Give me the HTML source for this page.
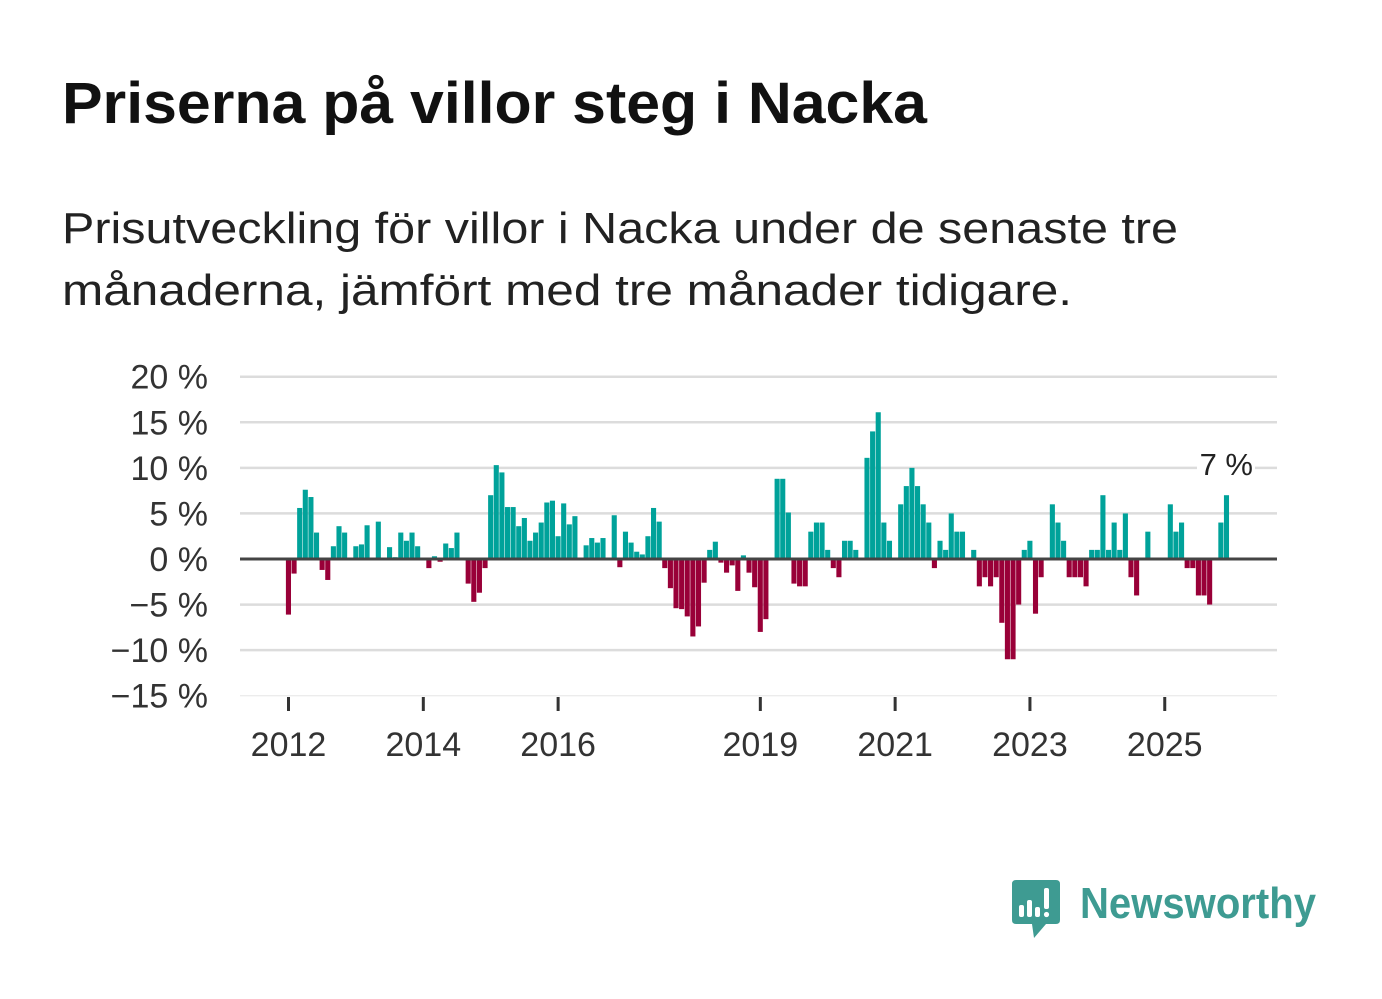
<!DOCTYPE html>
<html><head><meta charset="utf-8"><style>
html,body{margin:0;padding:0;background:#fff;}
svg{display:block;font-family:"Liberation Sans","DejaVu Sans",sans-serif;}
</style></head><body>
<svg id="chart" width="1382" height="999" viewBox="0 0 1382 999" xmlns="http://www.w3.org/2000/svg">
<text x="62" y="123" font-size="58" font-weight="bold" fill="#111" textLength="865" lengthAdjust="spacingAndGlyphs">Priserna på villor steg i Nacka</text>
<text x="62" y="243" font-size="44" fill="#222" textLength="1116" lengthAdjust="spacingAndGlyphs">Prisutveckling för villor i Nacka under de senaste tre</text>
<text x="62" y="305" font-size="44" fill="#222" textLength="1010" lengthAdjust="spacingAndGlyphs">månaderna, jämfört med tre månader tidigare.</text>
<g id="grid"></g>
<g id="bars"></g>
<g id="axes"></g>
<g>
<path d="M1016 880 H1056 Q1060 880 1060 884 V920 Q1060 924 1056 924 H1046 L1034 938 L1032 924 H1016 Q1012 924 1012 920 V884 Q1012 880 1016 880 Z" fill="#3e9b92"/>
<rect x="1019" y="905" width="5" height="12" rx="2" fill="#fff"/>
<rect x="1027" y="900" width="5" height="17" rx="2" fill="#fff"/>
<rect x="1035" y="907" width="5" height="10" rx="2" fill="#fff"/>
<rect x="1044" y="888" width="5" height="21" rx="2" fill="#fff"/>
<circle cx="1046.5" cy="914.5" r="2.6" fill="#fff"/>
<text x="1080" y="918" font-size="44" font-weight="bold" fill="#3e9b92" textLength="236" lengthAdjust="spacingAndGlyphs">Newsworthy</text>
</g>
</svg>
<script>
const months = 168; // Jan 2012 .. Dec 2025
const values = [
-6.1,-1.6,5.6,7.6,6.8,2.9,-1.2,-2.3,1.4,3.6,2.9,0,
1.4,1.6,3.7,0,4.1,0,1.3,0.2,2.9,2.0,2.9,1.4,
0,-1.0,0.3,-0.3,1.7,1.2,2.9,0,-2.7,-4.7,-3.7,-1.0,
7.0,10.3,9.5,5.7,5.7,3.6,4.5,2.0,2.9,4.0,6.2,6.4,
2.5,6.1,3.8,4.7,0,1.5,2.3,1.8,2.3,0,4.8,-0.9,
3.0,1.8,0.8,0.5,2.5,5.6,4.1,-1.0,-3.2,-5.4,-5.5,-6.3,
-8.5,-7.4,-2.6,1.0,1.9,-0.4,-1.5,-0.7,-3.5,0.4,-1.5,-3.1,
-8.0,-6.6,0,8.8,8.8,5.1,-2.7,-3.0,-3.0,3.0,4.0,4.0,
1.0,-1.0,-2.0,2.0,2.0,1.0,0,11.1,14.0,16.1,4.0,2.0,
0,6.0,8.0,10.0,8.0,6.0,4.0,-1.0,2.0,1.0,5.0,3.0,
3.0,0,1.0,-3.0,-2.0,-3.0,-2.0,-7.0,-11.0,-11.0,-5.0,1.0,
2.0,-6.0,-2.0,0,6.0,4.0,2.0,-2.0,-2.0,-2.0,-3.0,1.0,
1.0,7.0,1.0,4.0,1.0,5.0,-2.0,-4.0,0,3.0,0,0,
0,6.0,3.0,4.0,-1.0,-1.0,-4.0,-4.0,-5.0,0,4.0,7.0
];
const yTicks = [20,15,10,5,0,-5,-10,-15];
const yTickLabels = ["20 %","15 %","10 %","5 %","0 %","\u221205 %".replace("05","5"),"\u221210 %","\u221215 %"];
const xTickYears = [2012,2014,2016,2019,2021,2023,2025];
const lastLabel = "7 %";

const NS="http://www.w3.org/2000/svg";
const y = v => 559 - v*9.114;
const xm = i => 288.5 + i*5.617;
function mk(tag, attrs, parent, txt){const e=document.createElementNS(NS,tag);for(const k in attrs)e.setAttribute(k,attrs[k]);if(txt!==undefined)e.textContent=txt;parent.appendChild(e);return e;}
const grid=document.getElementById('grid'), bars=document.getElementById('bars'), axes=document.getElementById('axes');
yTicks.forEach((t,k)=>{
  if(t!==0){const l=mk('line',{x1:240,x2:1277,y1:y(t),y2:y(t),stroke:t===-15?'#e6e6e6':'#dcdcdc','stroke-width':t===-15?1:2.5},grid);
  
  }
  const tx=mk('text',{x:208,y:y(t)+12,'font-size':34,fill:'#333','text-anchor':'end'},axes,yTickLabels[k]);
  
  
});
values.forEach((v,i)=>{
  if(v===0)return;
  const r=mk('rect',{x:xm(i)-2.6,width:5.1,y:Math.min(y(v),y(0)),height:Math.abs(y(v)-y(0)),fill:v>0?'#00a29a':'#990038'},bars);
  
  
});
const z=mk('line',{x1:240,x2:1277,y1:y(0),y2:y(0),stroke:'#444','stroke-width':3},axes);


xTickYears.forEach(yr=>{
  const x=xm((yr-2012)*12);
  const t=mk('line',{x1:x,x2:x,y1:697,y2:711,stroke:'#333','stroke-width':3},axes);
  
  
  const l=mk('text',{x:x,y:756,'font-size':34,fill:'#333','text-anchor':'middle'},axes,String(yr));
  
  
});
const bg=mk('rect',{x:1197,y:450,width:58,height:28,fill:'#fff'},axes);


const lv=mk('text',{x:1253,y:475,'font-size':31,fill:'#222','text-anchor':'end'},axes,lastLabel);


</script>
</body></html>
